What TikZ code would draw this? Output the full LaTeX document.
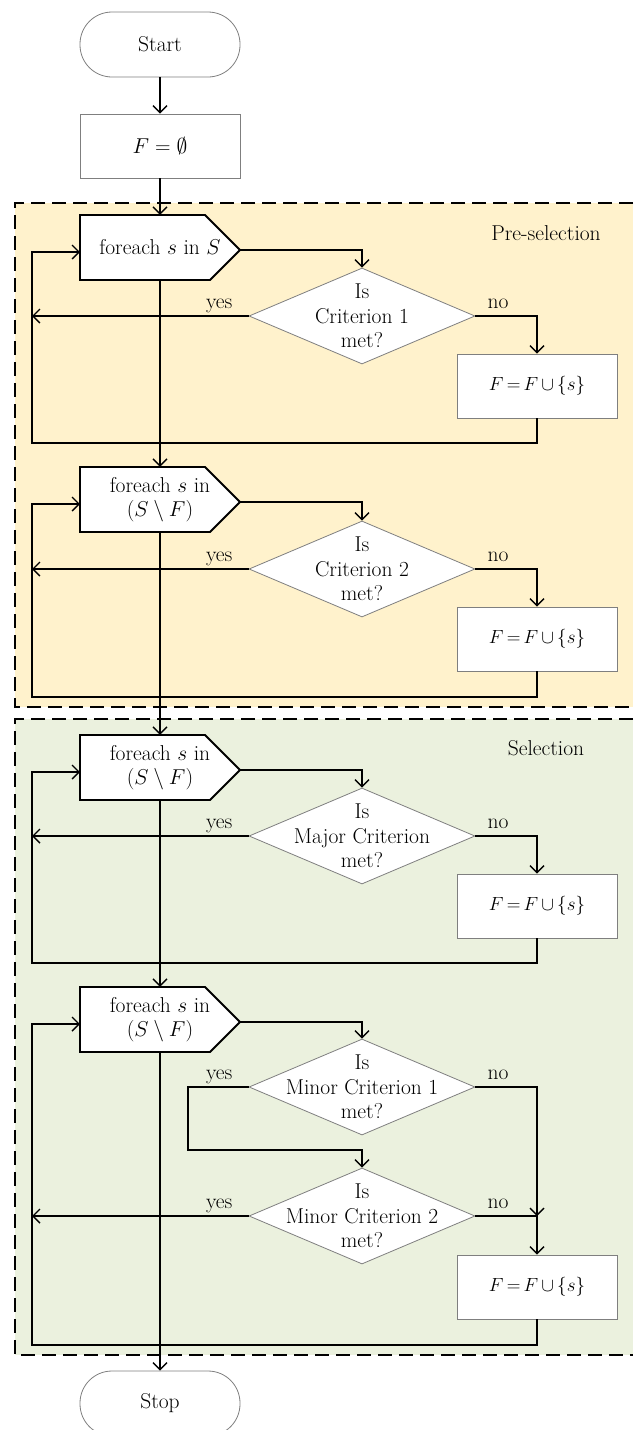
\RequirePackage{fix-cm}
\documentclass[tikz,border=0pt]{standalone}
\usepackage{amssymb}
\usepackage{fontspec}
\usetikzlibrary{shapes.geometric,arrows.meta}
\definecolor{preC}{HTML}{FFF2CC}
\definecolor{selC}{HTML}{EBF1DE}
\definecolor{edgeC}{HTML}{7F7F7F}
% loop box: name, cx, cy, text
\newcommand\loopbox[4]{%
  \path[loopline] (#2-80,#3-32.5) -- (#2+45,#3-32.5) -- (#2+80,#3+2.5)
     -- (#2+50,#3+32.5) -- (#2-80,#3+32.5) -- cycle;
  \node[loopnode] (#1) at (#2,#3) {#4};
  \coordinate (#1p) at (#2+80,#3+2.5);
  \coordinate (#1in) at (#2-80,#3+4.5);
}
\newcommand\addS{{\fontsize{19}{22}\selectfont$F\,{=}\,F\,{\cup}\,\{s\}$}}
\begin{document}
\begin{tikzpicture}[x=1pt,y=-1pt,
  every node/.style={font=\fontsize{21.5}{24.5}\selectfont},
  termnode/.style={draw=edgeC,line width=0.8pt,fill=white,rounded corners=32pt,
     minimum width=160pt,minimum height=65pt,inner sep=0pt},
  procnode/.style={draw=edgeC,line width=0.8pt,fill=white,
     minimum width=160pt,minimum height=64pt,inner sep=0pt},
  loopline/.style={draw=black,line width=1.8pt,fill=white,line join=miter},
  loopnode/.style={minimum width=160pt,minimum height=65pt,inner sep=0pt,align=center},
  decnode/.style={diamond,draw=edgeC,line width=0.8pt,fill=white,
     minimum width=226pt,minimum height=96pt,inner sep=0pt},
  dectext/.style={align=center,inner sep=0pt},
  conn/.style={line width=1.4pt,-{Straight Barb[length=7pt,width=14pt]}},
  lbl/.style={inner sep=0pt},
  regionborder/.style={line width=1.4pt,dash pattern=on 14pt off 7pt}
]
\useasboundingbox (0,0) rectangle (633,1430);

% regions
\fill[preC] (15,203) rectangle (633,707);
\draw[regionborder] (633,203) -- (15,203) -- (15,707) -- (633,707);
\fill[selC] (15,719) rectangle (633,1355);
\draw[regionborder] (633,719) -- (15,719) -- (15,1355) -- (633,1355);
\node[lbl,anchor=base] (lpre) at (546,240) {Pre-selection};
\node[lbl,anchor=base] (lsel) at (546,755) {Selection};

% nodes
\node[termnode] (start) at (160,44.5) {Start};
\node[procnode] (f0) at (160,146) {$F=\emptyset$};

\loopbox{l1}{160}{247.5}{foreach $s$ in $S$}
\node[decnode,label={[dectext]center:Is\\Criterion 1\\met?}] (d1) at (362,316) {};
\node[procnode] (b1) at (537,386) {\addS};
\coordinate (lb1) at (32,443);

\loopbox{l2}{160}{499.5}{foreach $s$ in\\$(S\setminus F)$}
\node[decnode,label={[dectext]center:Is\\Criterion 2\\met?}] (d2) at (362,569) {};
\node[procnode] (b2) at (537,639) {\addS};
\coordinate (lb2) at (32,697);

\loopbox{l3}{160}{767.5}{foreach $s$ in\\$(S\setminus F)$}
\node[decnode,label={[dectext]center:Is\\Major Criterion\\met?}] (d3) at (362,836) {};
\node[procnode] (b3) at (537,906) {\addS};
\coordinate (lb3) at (32,963);

\loopbox{l4}{160}{1019.5}{foreach $s$ in\\$(S\setminus F)$}
\node[decnode,label={[dectext]center:Is\\Minor Criterion 1\\met?}] (d4) at (362,1087) {};
\node[decnode,label={[dectext]center:Is\\Minor Criterion 2\\met?}] (d5) at (362,1216) {};
\node[procnode] (b5) at (537,1287) {\addS};
\coordinate (bend) at (188,1150);
\coordinate (j5) at (537,1216);
\coordinate (lb4) at (32,1345);

\node[termnode] (stop) at (160,1403.5) {Stop};

% connectors
\draw[conn] (start) -- (f0);
\draw[conn] (f0) -- (l1);

\draw[conn] (l1p) -| (d1.north);
\draw[conn] (d1.west) -- (d1.west -| lb1);
\draw[conn] (d1.east) -| (b1.north);
\draw[conn] (b1.south) |- (lb1) |- (l1in);
\draw[conn] (l1.south) -- (l2.north);

\draw[conn] (l2p) -| (d2.north);
\draw[conn] (d2.west) -- (d2.west -| lb2);
\draw[conn] (d2.east) -| (b2.north);
\draw[conn] (b2.south) |- (lb2) |- (l2in);
\draw[conn] (l2.south) -- (l3.north);

\draw[conn] (l3p) -| (d3.north);
\draw[conn] (d3.west) -- (d3.west -| lb3);
\draw[conn] (d3.east) -| (b3.north);
\draw[conn] (b3.south) |- (lb3) |- (l3in);
\draw[conn] (l3.south) -- (l4.north);

\draw[conn] (l4p) -| (d4.north);
\draw[conn] (d4.west) -| (bend) -| (d5.north);
\draw[conn] (d4.east) -| (j5);
\draw[conn] (d5.east) -| (b5.north);
\draw[conn] (d5.west) -- (d5.west -| lb4);
\draw[conn] (b5.south) |- (lb4) |- (l4in);
\draw[conn] (l4.south) -- (stop.north);

% yes / no labels
\node[lbl,anchor=base east] (y1) at ([shift={(-16,-8)}]d1.west) {yes};
\node[lbl,anchor=base west] (n1) at ([shift={(12,-8)}]d1.east) {no};
\node[lbl,anchor=base east] (y2) at ([shift={(-16,-8)}]d2.west) {yes};
\node[lbl,anchor=base west] (n2) at ([shift={(12,-8)}]d2.east) {no};
\node[lbl,anchor=base east] (y3) at ([shift={(-16,-8)}]d3.west) {yes};
\node[lbl,anchor=base west] (n3) at ([shift={(12,-8)}]d3.east) {no};
\node[lbl,anchor=base east] (y4) at ([shift={(-16,-8)}]d4.west) {yes};
\node[lbl,anchor=base west] (n4) at ([shift={(12,-8)}]d4.east) {no};
\node[lbl,anchor=base east] (y5) at ([shift={(-16,-8)}]d5.west) {yes};
\node[lbl,anchor=base west] (n5) at ([shift={(12,-8)}]d5.east) {no};
\end{tikzpicture}
\end{document}
